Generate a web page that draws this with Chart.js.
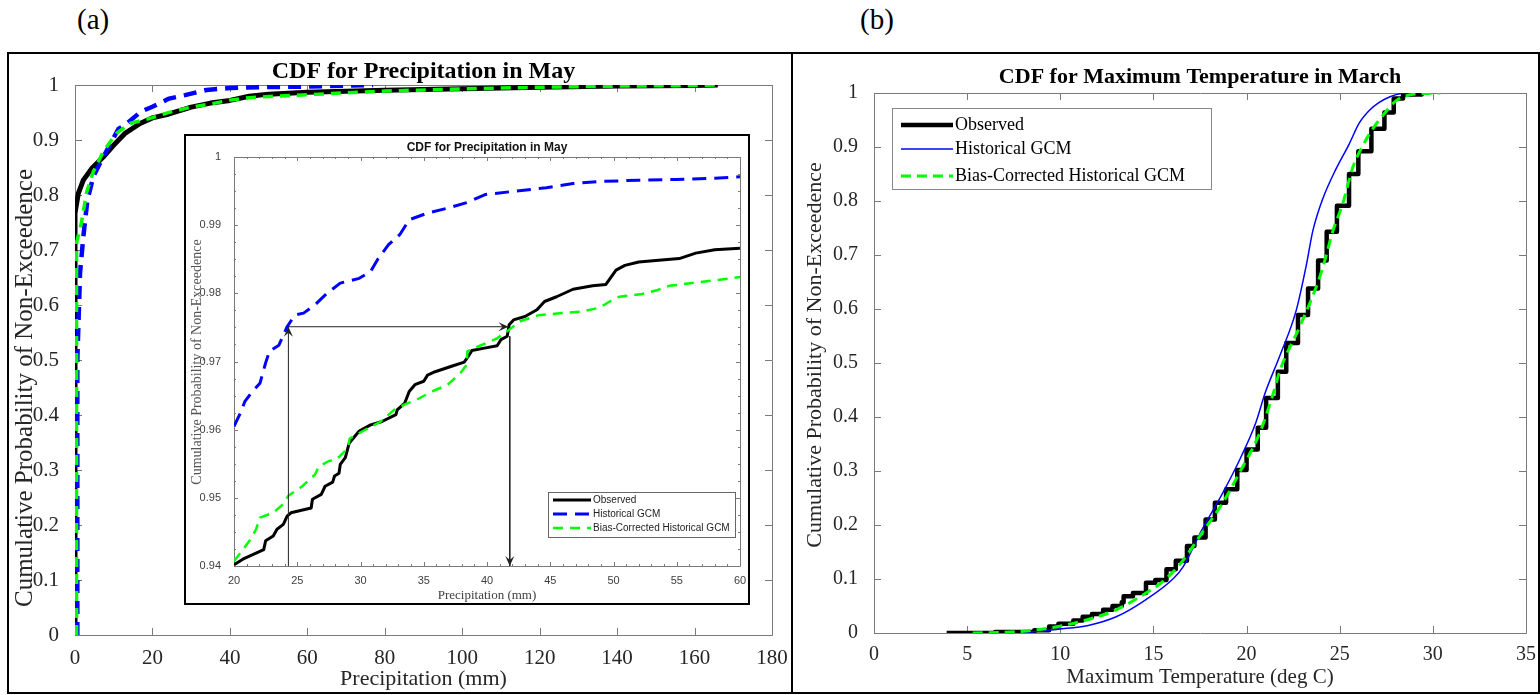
<!DOCTYPE html>
<html>
<head>
<meta charset="utf-8">
<title>CDF Precipitation / Temperature</title>
<script src="https://cdn.jsdelivr.net/npm/chart.js@4.4.1/dist/chart.umd.min.js"></script>
<style>
    html, body { margin: 0; padding: 0; background: #fff; }
    body { width: 1540px; height: 695px; position: relative; overflow: hidden; font-family: "Liberation Serif", serif; }
    .lbl { position: absolute; font-size: 29px; line-height: 29px; color: #000; }
    .frame { position: absolute; border: 2px solid #000; box-sizing: border-box; }
    canvas { position: absolute; }
    #insetBox { position: absolute; left: 184px; top: 134px; width: 566px; height: 471px; border: 2px solid #000; box-sizing: border-box; background: #fff; }
</style>
</head>
<body>
<div class="lbl" style="left:77px;top:5px">(a)</div>
<div class="lbl" style="left:860px;top:5px">(b)</div>
<div class="frame" style="left:7px;top:52px;width:786px;height:642px"></div>
<div class="frame" style="left:791px;top:52px;width:749px;height:642px"></div>
<canvas id="chartA" width="782" height="638" style="left:9px;top:54px"></canvas>
<div id="insetBox"><canvas id="chartInset" width="562" height="467" style="left:0;top:0"></canvas></div>
<canvas id="chartB" width="745" height="638" style="left:793px;top:54px"></canvas>

<script>
// ---------- datos ----------
const seriesNames = ['Observed', 'Historical GCM', 'Bias-Corrected Historical GCM'];

// (a) precipitación de mayo, gráfico principal
const precipXTicks = [0, 20, 40, 60, 80, 100, 120, 140, 160, 180];
const probTicks = [0, 0.1, 0.2, 0.3, 0.4, 0.5, 0.6, 0.7, 0.8, 0.9, 1];

const precipObsX = [0, 0, 0.86, 2.15, 4.3, 7.3, 9.9, 12.9, 16.8, 20, 24.3, 30, 35, 40, 45, 50, 60, 80, 100, 120, 140, 160, 166];
const precipObsY = [0, 0.767, 0.803, 0.827, 0.848, 0.869, 0.89, 0.912, 0.93, 0.9402, 0.9473, 0.9598, 0.9671, 0.972, 0.9795, 0.9834, 0.9866, 0.9905, 0.993, 0.996, 0.998, 0.999, 1.0];
const precipHistX = [0.6, 0.6, 1.3, 2.15, 3.2, 4.8, 7.3, 11.2, 13.4, 17.1, 20, 24.3, 28.4, 34, 40, 50, 60, 70, 77];
const precipHistY = [0, 0.5, 0.658, 0.724, 0.791, 0.835, 0.869, 0.92, 0.93, 0.952, 0.9605, 0.9753, 0.9815, 0.991, 0.9945, 0.9963, 0.9971, 0.999, 1.0];
const precipBcX = [0.4, 0.4, 1.7, 3.0, 4.7, 7.3, 10.7, 14.2, 20, 24.3, 30, 35, 40, 45, 50, 60, 80, 100, 120, 140, 160, 166];
const precipBcY = [0, 0.713, 0.751, 0.805, 0.842, 0.879, 0.912, 0.93, 0.9407, 0.9503, 0.9598, 0.9655, 0.9725, 0.977, 0.979, 0.9824, 0.989, 0.993, 0.996, 0.998, 0.999, 1.0];

// (a) recuadro ampliado 20-60 mm
const insetXTicks = [20, 25, 30, 35, 40, 45, 50, 55, 60];
const insetYTicks = [0.94, 0.95, 0.96, 0.97, 0.98, 0.99, 1];

const insetObsX = [20, 20.7, 22.35, 22.5, 23.1, 23.4, 23.9, 24.2, 24.5, 26.1, 26.2, 26.9, 27.2, 27.8, 27.95, 28.3, 28.4, 28.8, 29.1, 29.9, 30.8, 31.7, 32.8, 32.9, 33.5, 33.85, 34.3, 35.0, 35.3, 35.9, 37.2, 38.2, 38.5, 38.8, 39.9, 40.8, 41.1, 41.6, 41.75, 42.1, 43.0, 43.95, 44.55, 45.5, 46.8, 48.35, 49.4, 50.2, 50.9, 52.0, 53.8, 55.2, 56.5, 58.0, 60];
const insetObsY = [0.9402, 0.9410, 0.9424, 0.9437, 0.9444, 0.9454, 0.9461, 0.9473, 0.9478, 0.9485, 0.9498, 0.9505, 0.9517, 0.9523, 0.9532, 0.9536, 0.9549, 0.9559, 0.9580, 0.9598, 0.9607, 0.9612, 0.9622, 0.9629, 0.9639, 0.9656, 0.9666, 0.9671, 0.9680, 0.9685, 0.9693, 0.9699, 0.9707, 0.9716, 0.9720, 0.9723, 0.9732, 0.9737, 0.9754, 0.9761, 0.9766, 0.9776, 0.9788, 0.9795, 0.9806, 0.9811, 0.9813, 0.9834, 0.9841, 0.9846, 0.9849, 0.9851, 0.9859, 0.9864, 0.9866];
const insetHistX = [20, 20.5, 20.85, 21.45, 22.05, 22.5, 22.8, 23.55, 24.2, 24.8, 25.5, 26.4, 27.35, 28.4, 29.9, 30.8, 31.4, 32.2, 33.1, 33.85, 35.35, 36.9, 38.4, 39.9, 42.3, 44.7, 46.8, 48.9, 51.95, 54.9, 58, 60];
const insetHistY = [0.9605, 0.9624, 0.9641, 0.9656, 0.9668, 0.9698, 0.9715, 0.9724, 0.9751, 0.9768, 0.9771, 0.9783, 0.9800, 0.9815, 0.9822, 0.9832, 0.9851, 0.9871, 0.9886, 0.9908, 0.9918, 0.9925, 0.9933, 0.9945, 0.9950, 0.9955, 0.9961, 0.9964, 0.9966, 0.9967, 0.9969, 0.9971];
const insetBcX = [20, 20.7, 21.3, 21.75, 22.05, 23.1, 23.9, 24.3, 25.4, 26.4, 26.7, 27.5, 28.1, 29.0, 29.15, 30.2, 31.6, 32.65, 33.5, 34.45, 35.65, 36.9, 37.9, 38.4, 38.45, 39.3, 40.8, 41.7, 42.6, 44.1, 45.9, 47.4, 48.9, 49.7, 50.45, 52.25, 53.5, 54.4, 56.2, 58.0, 60];
const insetBcY = [0.9407, 0.9424, 0.9439, 0.9454, 0.9471, 0.9478, 0.9491, 0.9503, 0.9517, 0.9534, 0.9546, 0.9554, 0.9556, 0.9573, 0.9587, 0.9598, 0.9612, 0.9629, 0.9637, 0.9644, 0.9656, 0.9666, 0.9683, 0.9695, 0.9715, 0.9722, 0.9734, 0.9746, 0.9759, 0.9768, 0.9771, 0.9773, 0.9779, 0.9788, 0.9795, 0.9799, 0.9805, 0.9811, 0.9815, 0.9819, 0.9824];

// flechas del recuadro (mm y probabilidad)
const arrowX1 = 24.3;
const arrowX2 = 41.8;
const arrowLevel = 0.9751;
const arrowDownTop = 0.9737;

// (b) temperatura máxima de marzo
const tempXTicks = [0, 5, 10, 15, 20, 25, 30, 35];
const tempObsX = [3.9, 6.5, 8.6, 9.4, 9.9, 10.7, 11.2, 11.7, 12.3, 12.8, 13.3, 13.4, 13.9, 14.6, 15.1, 15.7, 16.2, 16.8, 17.2, 17.8, 18.3, 18.9, 19.5, 20.0, 20.6, 21.05, 21.68, 22.13, 22.76, 23.3, 23.84, 24.3, 24.85, 25.5, 26.0, 26.7, 27.4, 27.9, 28.4, 29.4];
const tempObsY = [0.0, 0.002, 0.005, 0.012, 0.017, 0.023, 0.030, 0.035, 0.043, 0.050, 0.057, 0.068, 0.074, 0.093, 0.098, 0.118, 0.134, 0.161, 0.177, 0.21, 0.241, 0.266, 0.302, 0.34, 0.38, 0.435, 0.484, 0.537, 0.589, 0.638, 0.69, 0.743, 0.791, 0.85, 0.892, 0.934, 0.964, 0.99, 0.997, 1.0];
const tempHistX = [7.9, 9.9, 11.5, 13.0, 14.6, 16.1, 16.6, 17.6, 18.7, 19.7, 20.5, 21.0, 21.77, 22.67, 23.2, 23.56, 24.1, 24.81, 25.5, 26.06, 26.6, 27.1, 27.7, 28.3, 29.0];
const tempHistY = [0, 0.007, 0.014, 0.03, 0.062, 0.102, 0.123, 0.191, 0.258, 0.326, 0.39, 0.445, 0.512, 0.598, 0.68, 0.745, 0.805, 0.86, 0.905, 0.945, 0.968, 0.982, 0.993, 0.999, 1.0];
const tempBcX = [5.3, 7.9, 9.9, 11.5, 13.0, 14.6, 15.6, 16.6, 17.6, 18.7, 19.7, 20.7, 21.4, 21.8, 22.85, 23.74, 24.1, 24.63, 25.17, 25.7, 26.2, 26.8, 27.4, 28.0, 28.6, 29.5, 30.4];
const tempBcY = [0, 0.003, 0.012, 0.025, 0.043, 0.074, 0.098, 0.135, 0.185, 0.24, 0.302, 0.37, 0.44, 0.487, 0.567, 0.641, 0.678, 0.744, 0.796, 0.862, 0.9, 0.935, 0.962, 0.985, 0.995, 0.999, 1.0];

// ---------- utilidades ----------
const SERIF = '"Liberation Serif", "Times New Roman", serif';
const SANS = '"Liberation Sans", Arial, sans-serif';
const yLabelText = 'Cumulative Probability of Non-Exceedence';

function xy(xs, ys) {
    return xs.map((v, i) => ({ x: v, y: ys[i] }));
}

// Marco tipo MATLAB con marcas hacia dentro en los cuatro lados
const axesBox = {
    id: 'axesBox',
    beforeDatasetsDraw(chart, args, o) {
        const { ctx, chartArea: a } = chart;
        const x = chart.scales.x, y = chart.scales.y;
        ctx.save();
        ctx.strokeStyle = o.color;
        ctx.lineWidth = 1;
        ctx.beginPath();
        const tickX = (v, len) => {
            const px = Math.round(x.getPixelForValue(v)) + 0.5;
            ctx.moveTo(px, a.bottom); ctx.lineTo(px, a.bottom - len);
            ctx.moveTo(px, a.top); ctx.lineTo(px, a.top + len);
        };
        const tickY = (v, len) => {
            const py = Math.round(y.getPixelForValue(v)) + 0.5;
            ctx.moveTo(a.left, py); ctx.lineTo(a.left + len, py);
            ctx.moveTo(a.right, py); ctx.lineTo(a.right - len, py);
        };
        x.ticks.forEach(t => tickX(t.value, o.len));
        y.ticks.forEach(t => tickY(t.value, o.len));
        if (o.minorX) {
            for (let v = x.min; v <= x.max + 1e-9; v += o.minorX) tickX(v, o.minorLen);
        }
        if (o.minorY) {
            for (let v = y.min; v <= y.max + 1e-9; v += o.minorY) tickY(v, o.minorLen);
        }
        ctx.rect(Math.round(a.left) + 0.5, Math.round(a.top) + 0.5, Math.round(a.width), Math.round(a.height));
        ctx.stroke();
        ctx.restore();
    }
};

// Título del panel y rótulo vertical del eje y
const panelText = {
    id: 'panelText',
    afterDraw(chart, args, o) {
        const { ctx, chartArea: a } = chart;
        ctx.save();
        ctx.textAlign = 'center';
        ctx.textBaseline = 'middle';
        ctx.font = o.titleFont;
        ctx.fillStyle = o.titleColor || '#000';
        ctx.fillText(o.title, (a.left + a.right) / 2, a.top - o.titleOffset);
        if (o.yLabel) {
            ctx.font = o.yFont;
            ctx.fillStyle = o.yColor;
            ctx.translate(o.yX, o.yY);
            ctx.rotate(-Math.PI / 2);
            ctx.fillText(o.yLabel, 0, 0);
        }
        ctx.restore();
    }
};

// Puntas de flecha al final de los datasets marcados con arrow
const arrowHeads = {
    id: 'arrowHeads',
    afterDatasetsDraw(chart) {
        const ctx = chart.ctx;
        chart.data.datasets.forEach((ds, i) => {
            if (!ds.arrow) return;
            const pts = chart.getDatasetMeta(i).data;
            const p1 = pts[pts.length - 2], p2 = pts[pts.length - 1];
            const ang = Math.atan2(p2.y - p1.y, p2.x - p1.x);
            ctx.save();
            ctx.translate(p2.x, p2.y);
            ctx.rotate(ang);
            ctx.beginPath();
            ctx.moveTo(0, 0);
            ctx.lineTo(-10, -4.5);
            ctx.lineTo(-6, 0);
            ctx.lineTo(-10, 4.5);
            ctx.closePath();
            ctx.fillStyle = ds.borderColor;
            ctx.fill();
            ctx.restore();
        });
    }
};

// Leyenda en caja dentro del área del gráfico
const boxLegend = {
    id: 'boxLegend',
    afterDraw(chart, args, o) {
        const ctx = chart.ctx;
        ctx.save();
        ctx.fillStyle = '#fff';
        ctx.fillRect(o.left, o.top, o.width, o.height);
        ctx.strokeStyle = o.border;
        ctx.lineWidth = 1;
        ctx.strokeRect(o.left + 0.5, o.top + 0.5, o.width, o.height);
        ctx.font = o.font;
        ctx.textAlign = 'left';
        ctx.textBaseline = 'middle';
        let row = 0;
        chart.data.datasets.forEach(ds => {
            if (ds.arrow) return;
            const yy = o.top + o.rows[row++];
            ctx.strokeStyle = ds.borderColor;
            ctx.lineWidth = o.sampleWidths ? o.sampleWidths[row - 1] : ds.borderWidth;
            ctx.setLineDash(ds.borderDash || []);
            ctx.beginPath();
            ctx.moveTo(o.left + o.sx0, yy);
            ctx.lineTo(o.left + o.sx1, yy);
            ctx.stroke();
            ctx.setLineDash([]);
            ctx.fillStyle = o.color;
            ctx.fillText(ds.label, o.left + o.tx, yy);
        });
        ctx.restore();
    }
};

function linearAxis(cfg) {
    return {
        type: 'linear',
        min: cfg.min,
        max: cfg.max,
        grid: { display: false },
        border: { display: false },
        afterBuildTicks: s => { s.ticks = cfg.ticks.map(v => ({ value: v })); },
        afterFit: s => {
            if (cfg.width) s.width = cfg.width;
            if (cfg.height) s.height = cfg.height;
        },
        ticks: {
            font: { family: cfg.tickFamily, size: cfg.tickSize },
            color: cfg.tickColor,
            padding: cfg.tickPad,
            autoSkip: false,
            maxRotation: 0,
            callback: v => String(v)
        },
        title: {
            display: !!cfg.title,
            text: cfg.title || '',
            font: { family: SERIF, size: cfg.titleSize },
            color: cfg.titleColor,
            padding: cfg.titlePad
        }
    };
}

function lineDs(label, data, style) {
    return Object.assign({
        label: label,
        data: data,
        showLine: true,
        pointRadius: 0,
        pointHoverRadius: 0,
        fill: false,
        borderJoinStyle: 'round'
    }, style);
}

const baseOptions = {
    responsive: false,
    animation: false,
    events: [],
    plugins: { legend: { display: false }, tooltip: { enabled: false } }
};

// ---------- (a) gráfico principal ----------
new Chart(document.getElementById('chartA'), {
    type: 'scatter',
    data: {
        datasets: [
            lineDs(seriesNames[0], xy(precipObsX, precipObsY), { borderColor: '#000', borderWidth: 5, order: 3 }),
            lineDs(seriesNames[1], xy(precipHistX, precipHistY), { borderColor: '#0000ff', borderWidth: 4.5, borderDash: [13, 8], order: 2 }),
            lineDs(seriesNames[2], xy(precipBcX, precipBcY), { borderColor: '#00ff00', borderWidth: 3.5, borderDash: [10, 7], order: 1 })
        ]
    },
    options: Object.assign({}, baseOptions, {
        layout: { padding: { left: 0, top: 31, right: 19, bottom: 0 } },
        scales: {
            x: linearAxis({ min: 0, max: 180, ticks: precipXTicks, height: 57, tickFamily: SERIF, tickSize: 21, tickColor: '#262626', tickPad: 3,
                title: 'Precipitation (mm)', titleSize: 22, titleColor: '#262626', titlePad: { top: 0, bottom: 0 } }),
            y: linearAxis({ min: 0, max: 1, ticks: probTicks, width: 66, tickFamily: SERIF, tickSize: 21, tickColor: '#262626', tickPad: 8 })
        },
        plugins: Object.assign({}, baseOptions.plugins, {
            axesBox: { color: '#7a7a7a', len: 7 },
            panelText: { title: 'CDF for Precipitation in May', titleFont: 'bold 24px ' + SERIF, titleOffset: 13,
                yLabel: yLabelText, yFont: '25px ' + SERIF, yColor: '#262626', yX: 16, yY: 334 }
        })
    }),
    plugins: [axesBox, panelText]
});

// ---------- (a) recuadro ampliado ----------
new Chart(document.getElementById('chartInset'), {
    type: 'scatter',
    data: {
        datasets: [
            lineDs(seriesNames[0], xy(insetObsX, insetObsY), { borderColor: '#000', borderWidth: 3, order: 3 }),
            lineDs(seriesNames[1], xy(insetHistX, insetHistY), { borderColor: '#0000ff', borderWidth: 3, borderDash: [14, 8], order: 2 }),
            lineDs(seriesNames[2], xy(insetBcX, insetBcY), { borderColor: '#00ff00', borderWidth: 2.5, borderDash: [10, 7], order: 1 }),
            lineDs('', xy([arrowX1, arrowX1], [insetYTicks[0], arrowLevel]), { borderColor: '#222', borderWidth: 1, arrow: true, order: 0 }),
            lineDs('', xy([arrowX1, arrowX2 - 0.1], [arrowLevel, arrowLevel]), { borderColor: '#222', borderWidth: 1, arrow: true, order: 0 }),
            lineDs('', xy([arrowX2, arrowX2], [arrowDownTop, insetYTicks[0]]), { borderColor: '#222', borderWidth: 1, arrow: true, order: 0 })
        ]
    },
    options: Object.assign({}, baseOptions, {
        layout: { padding: { left: 0, top: 21, right: 8, bottom: 0 } },
        scales: {
            x: linearAxis({ min: 20, max: 60, ticks: insetXTicks, height: 37, tickFamily: SANS, tickSize: 11, tickColor: '#404040', tickPad: 0,
                title: 'Precipitation (mm)', titleSize: 13, titleColor: '#404040', titlePad: { top: 0, bottom: 0 } }),
            y: linearAxis({ min: 0.94, max: 1, ticks: insetYTicks, width: 48, tickFamily: SANS, tickSize: 11, tickColor: '#404040', tickPad: 5 })
        },
        plugins: Object.assign({}, baseOptions.plugins, {
            axesBox: { color: '#7a7a7a', len: 4, minorLen: 2, minorX: 1, minorY: 0.0025 },
            panelText: { title: 'CDF for Precipitation in May', titleFont: 'bold 12px ' + SANS, titleColor: '#111', titleOffset: 9,
                yLabel: yLabelText, yFont: '14px ' + SERIF, yColor: '#555', yX: 11, yY: 226 },
            boxLegend: { left: 362, top: 356, width: 187, height: 45, rows: [8, 22, 36], sx0: 5, sx1: 43, tx: 45,
                font: '10px ' + SANS, color: '#222', border: '#666' }
        })
    }),
    plugins: [axesBox, arrowHeads, boxLegend, panelText]
});

// ---------- (b) temperatura ----------
new Chart(document.getElementById('chartB'), {
    type: 'scatter',
    data: {
        datasets: [
            lineDs(seriesNames[0], xy(tempObsX, tempObsY), { borderColor: '#000', borderWidth: 4.5, stepped: 'before', order: 3 }),
            lineDs(seriesNames[1], xy(tempHistX, tempHistY), { borderColor: '#0000ff', borderWidth: 1.5, cubicInterpolationMode: 'monotone', order: 2 }),
            lineDs(seriesNames[2], xy(tempBcX, tempBcY), { borderColor: '#00ff00', borderWidth: 3, borderDash: [10, 6], cubicInterpolationMode: 'monotone', order: 1 })
        ]
    },
    options: Object.assign({}, baseOptions, {
        layout: { padding: { left: 0, top: 39, right: 12, bottom: 0 } },
        scales: {
            x: linearAxis({ min: 0, max: 35, ticks: tempXTicks, height: 59, tickFamily: SERIF, tickSize: 20, tickColor: '#262626', tickPad: 2,
                title: 'Maximum Temperature (deg C)', titleSize: 21, titleColor: '#262626', titlePad: { top: 0, bottom: 2 } }),
            y: linearAxis({ min: 0, max: 1, ticks: probTicks, width: 81, tickFamily: SERIF, tickSize: 20, tickColor: '#262626', tickPad: 8 })
        },
        plugins: Object.assign({}, baseOptions.plugins, {
            axesBox: { color: '#7a7a7a', len: 7 },
            panelText: { title: 'CDF for Maximum Temperature in March', titleFont: 'bold 22px ' + SERIF, titleOffset: 16,
                yLabel: yLabelText, yFont: '22px ' + SERIF, yColor: '#262626', yX: 22, yY: 301 },
            boxLegend: { left: 99, top: 54, width: 319, height: 81, rows: [17, 41, 68], sx0: 9, sx1: 61, tx: 63,
                font: '18px ' + SERIF, color: '#000', border: '#888', sampleWidths: [4.5, 1.5, 3] }
        })
    }),
    plugins: [axesBox, boxLegend, panelText]
});
</script>
</body>
</html>
